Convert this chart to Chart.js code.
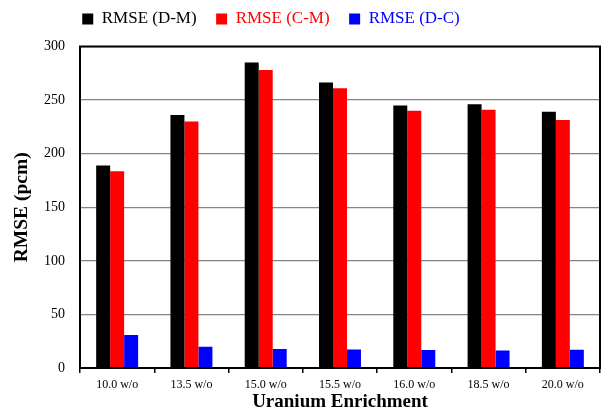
<!DOCTYPE html>
<html>
<head>
<meta charset="utf-8">
<script src="https://cdn.jsdelivr.net/npm/chart.js@4/dist/chart.umd.min.js"></script>
<style>
  html, body { margin: 0; padding: 0; background: #fff; }
  #wrap { width: 603px; height: 417px; position: relative; }
</style>
</head>
<body>
<div id="wrap"><canvas id="chart"></canvas></div>
<script>
// Uranium enrichment cases (weight percent)
const categories = ['10.0 w/o', '13.5 w/o', '15.0 w/o', '15.5 w/o', '16.0 w/o', '18.5 w/o', '20.0 w/o'];

// RMSE values in pcm
const rmseDM = [189, 236, 285, 266.5, 245, 246, 239];
const rmseCM = [183.5, 230, 278, 261, 240, 241, 231.5];
const rmseDC = [30.7, 19.8, 17.7, 17.3, 16.7, 16.4, 17];

const seriesNames = ['RMSE (D-M)', 'RMSE (C-M)', 'RMSE (D-C)'];
const seriesColors = ['#000000', '#ff0000', '#0000ff'];

const yTicks = { min: 0, max: 300, step: 50 };

const serif = "'Liberation Serif', 'Times New Roman', serif";

// Black frame around the plotting area
const frame = {
  id: 'frame',
  afterDatasetsDraw(chart) {
    const { ctx, chartArea: a } = chart;
    ctx.save();
    ctx.strokeStyle = '#000';
    ctx.lineWidth = 2;
    ctx.strokeRect(a.left, a.top, a.right - a.left, a.bottom - a.top);
    ctx.restore();
  }
};

// Move the legend row up and a little to the left of centre
const legendShift = {
  id: 'legendShift',
  afterLayout(chart) {
    const lg = chart.legend;
    if (lg) { lg.left -= 29; lg.right -= 29; lg.top -= 9; lg.bottom -= 9; }
  }
};

new Chart(document.getElementById('chart'), {
  type: 'bar',
  data: {
    labels: categories,
    datasets: [
      { label: seriesNames[0], data: rmseDM, backgroundColor: seriesColors[0] },
      { label: seriesNames[1], data: rmseCM, backgroundColor: seriesColors[1] },
      { label: seriesNames[2], data: rmseDC, backgroundColor: seriesColors[2] }
    ]
  },
  options: {
    responsive: true,
    maintainAspectRatio: false,
    animation: false,
    layout: { padding: { top: 0, right: 3, left: 0, bottom: 0 } },
    datasets: { bar: { categoryPercentage: 0.565, barPercentage: 1.0, borderWidth: 0 } },
    plugins: {
      tooltip: { enabled: false },
      legend: {
        position: 'top',
        labels: {
          font: { family: serif, size: 17 },
          boxWidth: 11,
          boxHeight: 11,
          padding: 19.5,
          generateLabels(chart) {
            return chart.data.datasets.map((ds, i) => ({
              text: ds.label,
              fillStyle: ds.backgroundColor,
              strokeStyle: ds.backgroundColor,
              lineWidth: 0,
              fontColor: ds.backgroundColor,
              hidden: false,
              datasetIndex: i
            }));
          }
        }
      }
    },
    scales: {
      x: {
        grid: { drawOnChartArea: false, drawTicks: true, tickLength: 5, color: '#000', lineWidth: 1.5 },
        border: { color: '#000', width: 2 },
        ticks: { font: { family: serif, size: 12 }, color: '#000', padding: 5, maxRotation: 0 },
        title: {
          display: true, text: 'Uranium Enrichment', color: '#000',
          font: { family: serif, size: 19, weight: 'bold' },
          padding: { top: 0, bottom: 4 }
        },
        afterFit(scale) { scale.height = 49; }
      },
      y: {
        min: yTicks.min, max: yTicks.max,
        grid: { color: '#858585', lineWidth: 1.2, drawTicks: false },
        border: { color: '#000', width: 2 },
        ticks: { stepSize: yTicks.step, font: { family: serif, size: 14 }, color: '#000', padding: 15 },
        title: {
          display: true, text: 'RMSE (pcm)', color: '#000',
          font: { family: serif, size: 19.5, weight: 'bold' },
          padding: { top: 10, bottom: 0 }
        },
        afterFit(scale) { scale.width = 80; }
      }
    }
  },
  plugins: [frame, legendShift]
});
</script>
</body>
</html>
